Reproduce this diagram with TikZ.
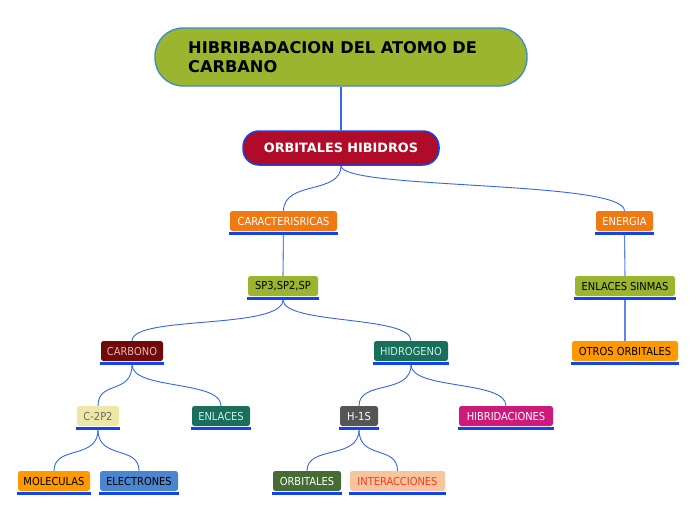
\documentclass[tikz,border=0pt]{standalone}
\usepackage{fontspec}
\setmainfont{DejaVu Sans}
\newfontfamily\lblfont{DejaVu Sans Condensed}
\begin{document}
\begin{tikzpicture}[x=1pt,y=-1pt,
  conn/.style={draw=linkblue,line width=0.9pt},
  stem/.style={draw=linkblue!80,line width=1.1pt},
  topic/.style={rounded corners=2.5pt,minimum height=20pt,inner sep=0pt,font=\lblfont\fontsize{11}{12}\selectfont},
  ulbar/.style={draw=barblue,line width=2.6pt}]
\definecolor{linkblue}{HTML}{3366EE}
\definecolor{barblue}{HTML}{1144EE}
\definecolor{olive}{HTML}{9CB52F}
\definecolor{rootborder}{HTML}{3A8AD6}
\definecolor{crimson}{HTML}{B00C2A}
\definecolor{orgA}{HTML}{EF7A12}
\definecolor{orgB}{HTML}{FF9900}
\definecolor{darkred}{HTML}{6E0A0A}
\definecolor{pinktxt}{HTML}{E8B4B4}
\definecolor{teal}{HTML}{1A6E5C}
\definecolor{tealtxt}{HTML}{C8F0E0}
\definecolor{paleyel}{HTML}{EDE7A8}
\definecolor{graytxt}{HTML}{6A6A6A}
\definecolor{dgray}{HTML}{555555}
\definecolor{magenta}{HTML}{CC1A7A}
\definecolor{blueb}{HTML}{4A86D0}
\definecolor{dgreen}{HTML}{466B34}
\definecolor{peach}{HTML}{F8C49E}
\definecolor{redtxt}{HTML}{F04020}
\useasboundingbox (0,0) rectangle (696,520);
\fill[white] (0,0) rectangle (696,520);

% root
\node[draw=rootborder,line width=1.3pt,fill=olive,rounded corners=28pt,minimum width=372pt,minimum height=58pt,inner sep=0pt] (root) at (341,57) {};
\node[anchor=west,align=left,font=\bfseries\fontsize{16.2}{19}\selectfont,inner sep=0pt] (roottxt) at (188,57.5) {HIBRIBADACION DEL ATOMO DE\\CARBANO};

% main topic
\node[draw=barblue,line width=1.5pt,fill=crimson,rounded corners=16pt,minimum width=196pt,minimum height=34pt,inner sep=0pt,text=white,font=\bfseries\fontsize{12.8}{14}\selectfont] (orb) at (341,148) {ORBITALES HIBIDROS};

% topics
\node[topic,fill=orgA,text=white,minimum width=107pt] (car) at (283.5,221) {CARACTERISRICAS};
\node[topic,fill=orgA,text=white,minimum width=57pt] (ene) at (624.5,221) {ENERGIA};
\node[topic,fill=olive,text=black,minimum width=70pt] (sp) at (283,286) {SP3,SP2,SP};
\node[topic,fill=olive,text=black,minimum width=100pt] (ens) at (625,286) {ENLACES SINMAS};
\node[topic,fill=darkred,text=pinktxt,minimum width=62pt] (cbn) at (132,351) {CARBONO};
\node[topic,fill=teal,text=tealtxt,minimum width=74pt] (hid) at (411,351) {HIDROGENO};
\node[topic,fill=orgB,text=black,minimum width=106pt] (otr) at (625,351) {OTROS ORBITALES};
\node[topic,fill=paleyel,text=graytxt,minimum width=42pt] (c2p) at (98,416) {C-2P2};
\node[topic,fill=teal,text=tealtxt,minimum width=58pt] (enl) at (221,416) {ENLACES};
\node[topic,fill=dgray,text=white,minimum width=38pt] (h1s) at (359,416) {H-1S};
\node[topic,fill=magenta,text=white,minimum width=94pt] (hib) at (506,416) {HIBRIDACIONES};
\node[topic,fill=orgB,text=black,minimum width=72pt] (mol) at (54,481) {MOLECULAS};
\node[topic,fill=blueb,text=black,minimum width=78pt] (ele) at (139,481) {ELECTRONES};
\node[topic,fill=dgreen,text=white,minimum width=68pt] (orb2) at (307,481) {ORBITALES};
\node[topic,fill=peach,text=redtxt,minimum width=95pt] (int) at (397.5,481) {INTERACCIONES};

% underline bars
\foreach \n in {car,ene,sp,ens,cbn,hid,otr,c2p,enl,h1s,hib,mol,ele,orb2,int}{
  \draw[ulbar] ([xshift=-1pt,yshift=-2.3pt]\n.south west) -- ([xshift=1pt,yshift=-2.3pt]\n.south east);
}

% connectors
\draw[draw=linkblue,line width=2pt] (root.south) -- (orb.north);
\draw[conn] (orb.south) .. controls (341,195) and (284,180) .. (car.north);
\draw[conn] (orb.south) .. controls (341,190) and (624.5,180) .. (ene.north);
\draw[stem] ([yshift=-3.5pt]car.south) -- (sp.north);
\draw[stem] ([yshift=-3.5pt]ene.south) -- (ens.north);
\draw[stem] ([yshift=-3.5pt]ens.south) -- (otr.north);
\draw[conn] ([yshift=-3.5pt]sp.south) .. controls (283,330) and (132,315) .. (cbn.north);
\draw[conn] ([yshift=-3.5pt]sp.south) .. controls (283,325) and (411,315) .. (hid.north);
\draw[conn] ([yshift=-3.5pt]cbn.south) .. controls (132,395) and (98,380) .. (c2p.north);
\draw[conn] ([yshift=-3.5pt]cbn.south) .. controls (132,390) and (221,380) .. (enl.north);
\draw[conn] ([yshift=-3.5pt]hid.south) .. controls (411,395) and (359,380) .. (h1s.north);
\draw[conn] ([yshift=-3.5pt]hid.south) .. controls (411,390) and (506,380) .. (hib.north);
\draw[conn] ([yshift=-3.5pt]c2p.south) .. controls (98,460) and (54,445) .. (mol.north);
\draw[conn] ([yshift=-3.5pt]c2p.south) .. controls (98,460) and (139,445) .. (ele.north);
\draw[conn] ([yshift=-3.5pt]h1s.south) .. controls (359,460) and (307,445) .. (orb2.north);
\draw[conn] ([yshift=-3.5pt]h1s.south) .. controls (359,460) and (397.5,445) .. (int.north);
\end{tikzpicture}
\end{document}
